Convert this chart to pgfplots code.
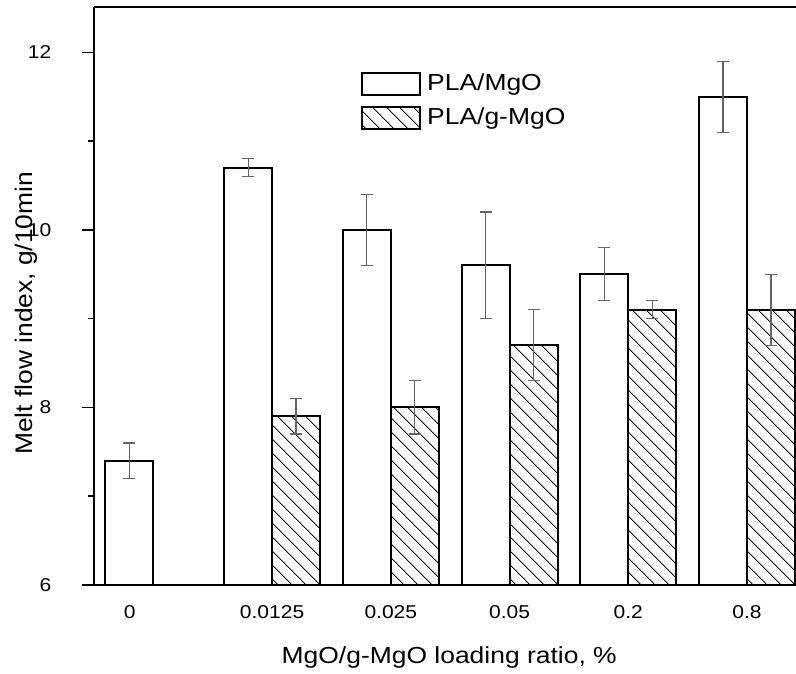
\documentclass[border=0pt]{standalone}
\usepackage{fontspec}
\setmainfont{Liberation Sans}
\usepackage{graphicx}
\usepackage{pgfplots}
\pgfplotsset{compat=1.18}
\usetikzlibrary{patterns.meta}
\newcommand{\sx}[1]{\scalebox{1.14}[1]{#1}}
\newcommand{\sxy}[1]{\scalebox{1.1}[1]{#1}}
\newcommand{\sxt}[1]{\scalebox{1.13}[1]{#1}}
\newcommand{\tickfont}{\fontsize{9.3bp}{11bp}\selectfont}
\newcommand{\labfont}{\fontsize{11.6bp}{13.5bp}\selectfont}
\newcommand{\ylabfont}{\fontsize{12bp}{14bp}\selectfont}

% bar centres: white bars at x-0.202, hatched bars at x+0.202
\pgfplotstableread{
x y e
-0.202 7.4 0.2
0.798 10.7 0.1
1.798 10.0 0.4
2.798 9.6 0.6
3.798 9.5 0.3
4.798 11.5 0.4
}\plain
\pgfplotstableread{
x y e
1.202 7.9 0.2
2.202 8.0 0.3
3.202 8.7 0.4
4.202 9.1 0.1
5.202 9.1 0.4
}\grafted

\begin{document}
\begin{tikzpicture}
\begin{axis}[
  scale only axis, width=351bp, height=289bp,
  xmin=-0.5, xmax=5.413, ymin=6, ymax=12.51,
  axis x line*=box, axis y line*=left,
  axis line style={-, line width=1bp, black},
  xtick={-0.2,1,2,3,4,5},
  xticklabels={\sxt{0},\sxt{0.0125},\sxt{0.025},\sxt{0.05},\sxt{0.2},\sxt{0.8}},
  x tick style={draw=none},
  xticklabel style={font=\tickfont, anchor=center, yshift=-7.5bp},
  ytick={6,8,10,12}, minor ytick={7,9,11},
  tick align=outside,
  y tick style={line width=0.75bp, black},
  major tick length=5.8bp, minor tick length=3bp,
  /pgf/number format/assume math mode=true,
  yticklabel={\sxt{\pgfmathprintnumber{\tick}}},
  yticklabel style={font=\tickfont, anchor=east, xshift=-12bp},
  ylabel={\sxy{Melt flow index, g/10min}},
  xlabel={\sx{MgO/g-MgO loading ratio, \%}},
  xlabel style={font=\labfont, at={(axis description cs:0.506,0)}, anchor=center, yshift=-36bp},
  ylabel style={font=\ylabfont, at={(axis description cs:-0.097,0.47)}, anchor=center},
  legend style={at={(rel axis cs:0.38,0.889)}, anchor=north west, draw=none, fill=none,
    inner xsep=0pt, inner ysep=0pt, row sep=5bp, font=\labfont,
    nodes={inner xsep=3bp, inner ysep=0pt}},
  legend cell align=left,
  error bars/y dir=both, error bars/y explicit,
  error bars/error bar style={black!60, line width=0.6bp},
  error bars/error mark options={rotate=90, mark size=3bp, black!60, line width=0.6bp},
]
\addlegendimage{legend image code/.code={\draw[line width=1bp, black, fill=white] (0bp,-5.5bp) rectangle (29bp,5.5bp);}}
\addlegendentry{\sx{PLA/MgO}}
\addlegendimage{legend image code/.code={\draw[line width=1bp, black, pattern={Lines[angle=-45,distance=5.2bp,line width=0.5bp]}] (0bp,-5.5bp) rectangle (29bp,5.5bp);}}
\addlegendentry{\sx{PLA/g-MgO}}
\addplot[ybar, bar width=0.404, bar shift=0, draw=black, line width=1bp, fill=white, forget plot]
  table[x=x, y=y, y error=e] {\plain};
\addplot[ybar, bar width=0.404, bar shift=0, draw=black, line width=1bp,
  pattern={Lines[angle=-45,distance=5.2bp,line width=0.5bp]}, forget plot]
  table[x=x, y=y, y error=e] {\grafted};
\end{axis}
\pgfresetboundingbox
\path ([xshift=-47bp,yshift=-44.5bp]current axis.south west) rectangle ([yshift=3.5bp]current axis.north east);
\end{tikzpicture}
\end{document}
